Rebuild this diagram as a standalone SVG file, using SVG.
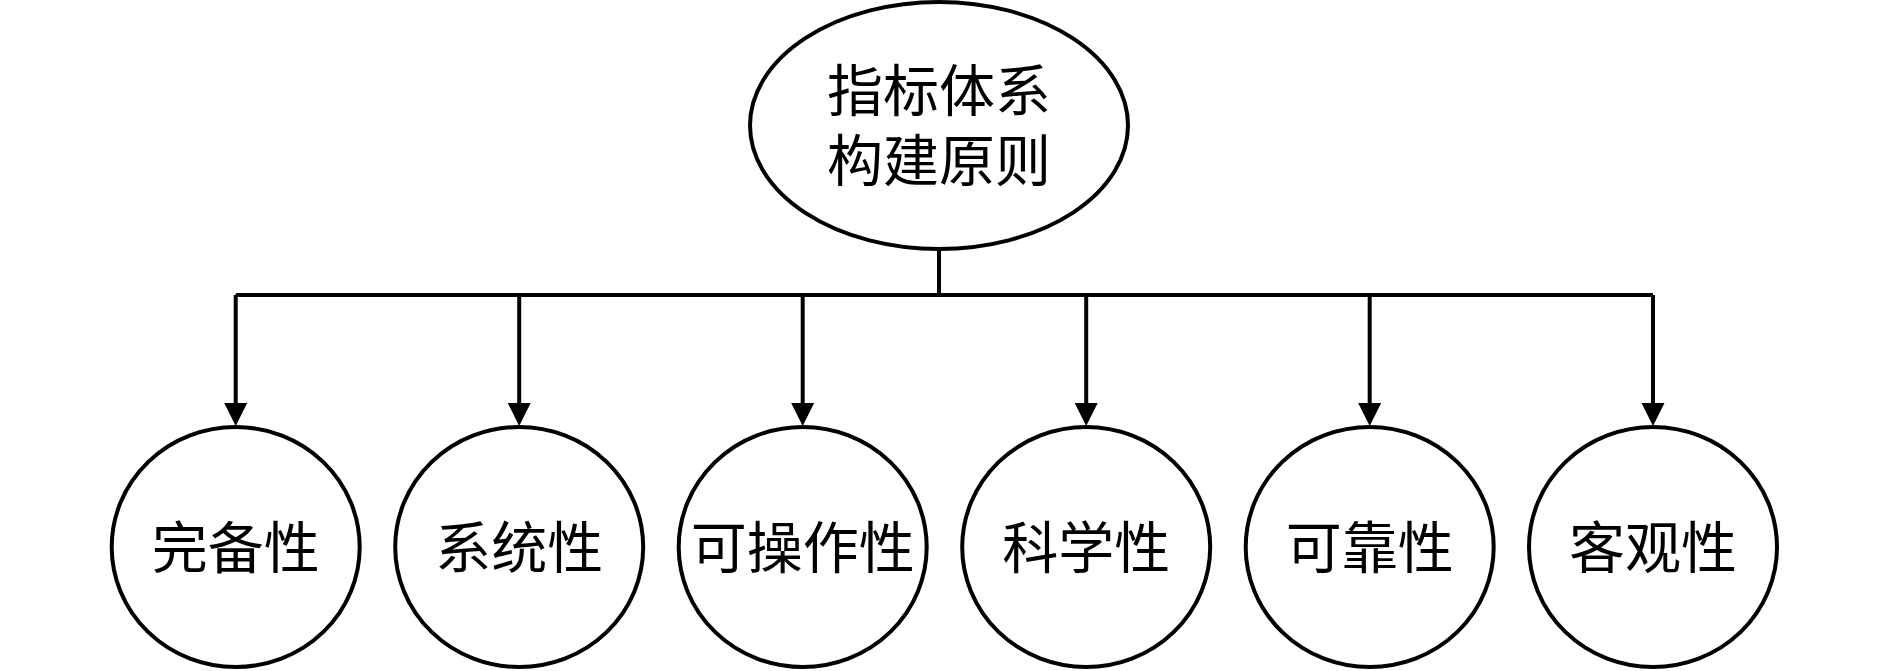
<svg xmlns="http://www.w3.org/2000/svg" width="1890" height="671" viewBox="0 0 1890 671">
<style>
.node{fill:#fff;stroke:#000;stroke-width:4}
.lbl{font-family:"Liberation Serif","Noto Sans CJK SC",serif;font-size:56px;fill:#000;text-anchor:middle;dominant-baseline:central}
.wire{fill:none;stroke:#000;stroke-width:4}
.head{fill:#000;stroke:none}
</style>
<rect width="1890" height="671" fill="#fff"/>
<g id="connectors">
<path class="wire" d="M939,249 V295 M235.7,295 H1653"/>
<path class="wire" d="M235.7,295 V410 M519.2,295 V410 M802.7,295 V410 M1086.2,295 V410 M1369.7,295 V410 M1653,295 V410"/>
<path class="head" d="M224.2,403 H247.2 L235.7,426 Z"/>
<path class="head" d="M507.7,403 H530.7 L519.2,426 Z"/>
<path class="head" d="M791.2,403 H814.2 L802.7,426 Z"/>
<path class="head" d="M1074.7,403 H1097.7 L1086.2,426 Z"/>
<path class="head" d="M1358.2,403 H1381.2 L1369.7,426 Z"/>
<path class="head" d="M1641.5,403 H1664.5 L1653,426 Z"/>
</g>
<g id="root">
<ellipse class="node" cx="939" cy="125.5" rx="189" ry="123.5"/>
<text class="lbl" x="939" y="92">指标体系</text>
<text class="lbl" x="939" y="162">构建原则</text>
</g>
<g id="n1"><ellipse class="node" cx="235.7" cy="547" rx="124" ry="120"/><text class="lbl" x="235.7" y="549">完备性</text></g>
<g id="n2"><ellipse class="node" cx="519.2" cy="547" rx="124" ry="120"/><text class="lbl" x="519.2" y="549">系统性</text></g>
<g id="n3"><ellipse class="node" cx="802.7" cy="547" rx="124" ry="120"/><text class="lbl" x="802.7" y="549">可操作性</text></g>
<g id="n4"><ellipse class="node" cx="1086.2" cy="547" rx="124" ry="120"/><text class="lbl" x="1086.2" y="549">科学性</text></g>
<g id="n5"><ellipse class="node" cx="1369.7" cy="547" rx="124" ry="120"/><text class="lbl" x="1369.7" y="549">可靠性</text></g>
<g id="n6"><ellipse class="node" cx="1653" cy="547" rx="124" ry="120"/><text class="lbl" x="1653" y="549">客观性</text></g>
</svg>
